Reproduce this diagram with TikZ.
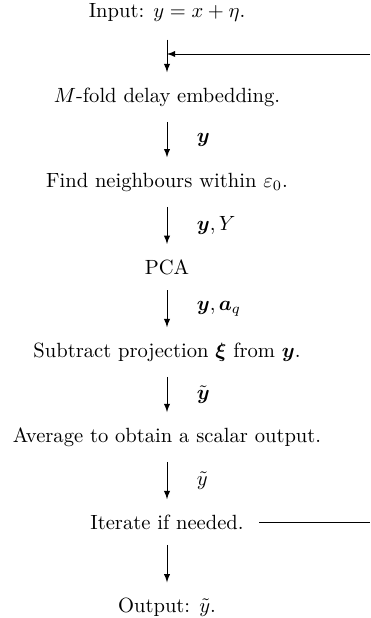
\documentclass[tikz,border=0pt]{standalone}
\usepackage{amsmath, amssymb}

\begin{document}
\begin{tikzpicture}[x=0.486pt, y=-0.486pt,
        stage/.style={inner sep=3.33pt},
        flow/.style={-latex, shorten <=4pt, shorten >=4pt},
        lbl/.style={midway, right=11pt}]
        \useasboundingbox (0,0) rectangle (370,618);

        % Draw nodes
        \node[stage] (in) at (167,12) {Input: $y = x + \eta$.};
        \node[stage] (embed) at (167,97) {$M$-fold delay embedding.};
        \node[stage] (nbr) at (167,182) {Find neighbours within $\varepsilon_0$.};
        \node[stage] (pca) at (167,267) {PCA};
        \node[stage] (sub) at (167,352) {Subtract projection $\boldsymbol{\xi}$ from $\boldsymbol{y}$.};
        \node[stage] (avg) at (167,437) {Average to obtain a scalar output.};
        \node[stage] (iter) at (167,522) {Iterate if needed.};
        \node[stage] (out) at (167,607) {Output: $\tilde{y}$.};

        % Feedback ends
        \coordinate (fbin) at (370,54);
        \coordinate (fbtip) at (167,54);
        \coordinate (fbout) at (370,522);

        % Draw connections
        \draw[flow, shorten <=5.5pt] (in) -- (embed);
        \draw[flow] (embed) -- (nbr) node[lbl] {$\boldsymbol{y}$};
        \draw[flow] (nbr) -- (pca) node[lbl] {$\boldsymbol{y}, Y$};
        \draw[flow] (pca) -- (sub) node[lbl] {$\boldsymbol{y}, \boldsymbol{a}_q$};
        \draw[flow] (sub) -- (avg) node[lbl] {$\tilde{\boldsymbol{y}}$};
        \draw[flow] (avg) -- (iter) node[lbl] {$\tilde{y}$};
        \draw[flow] (iter) -- (out);
        \draw[-latex] (fbin) -- (fbtip);
        \draw[shorten <=4pt] (iter) -- (fbout);
    \end{tikzpicture}
\end{document}
